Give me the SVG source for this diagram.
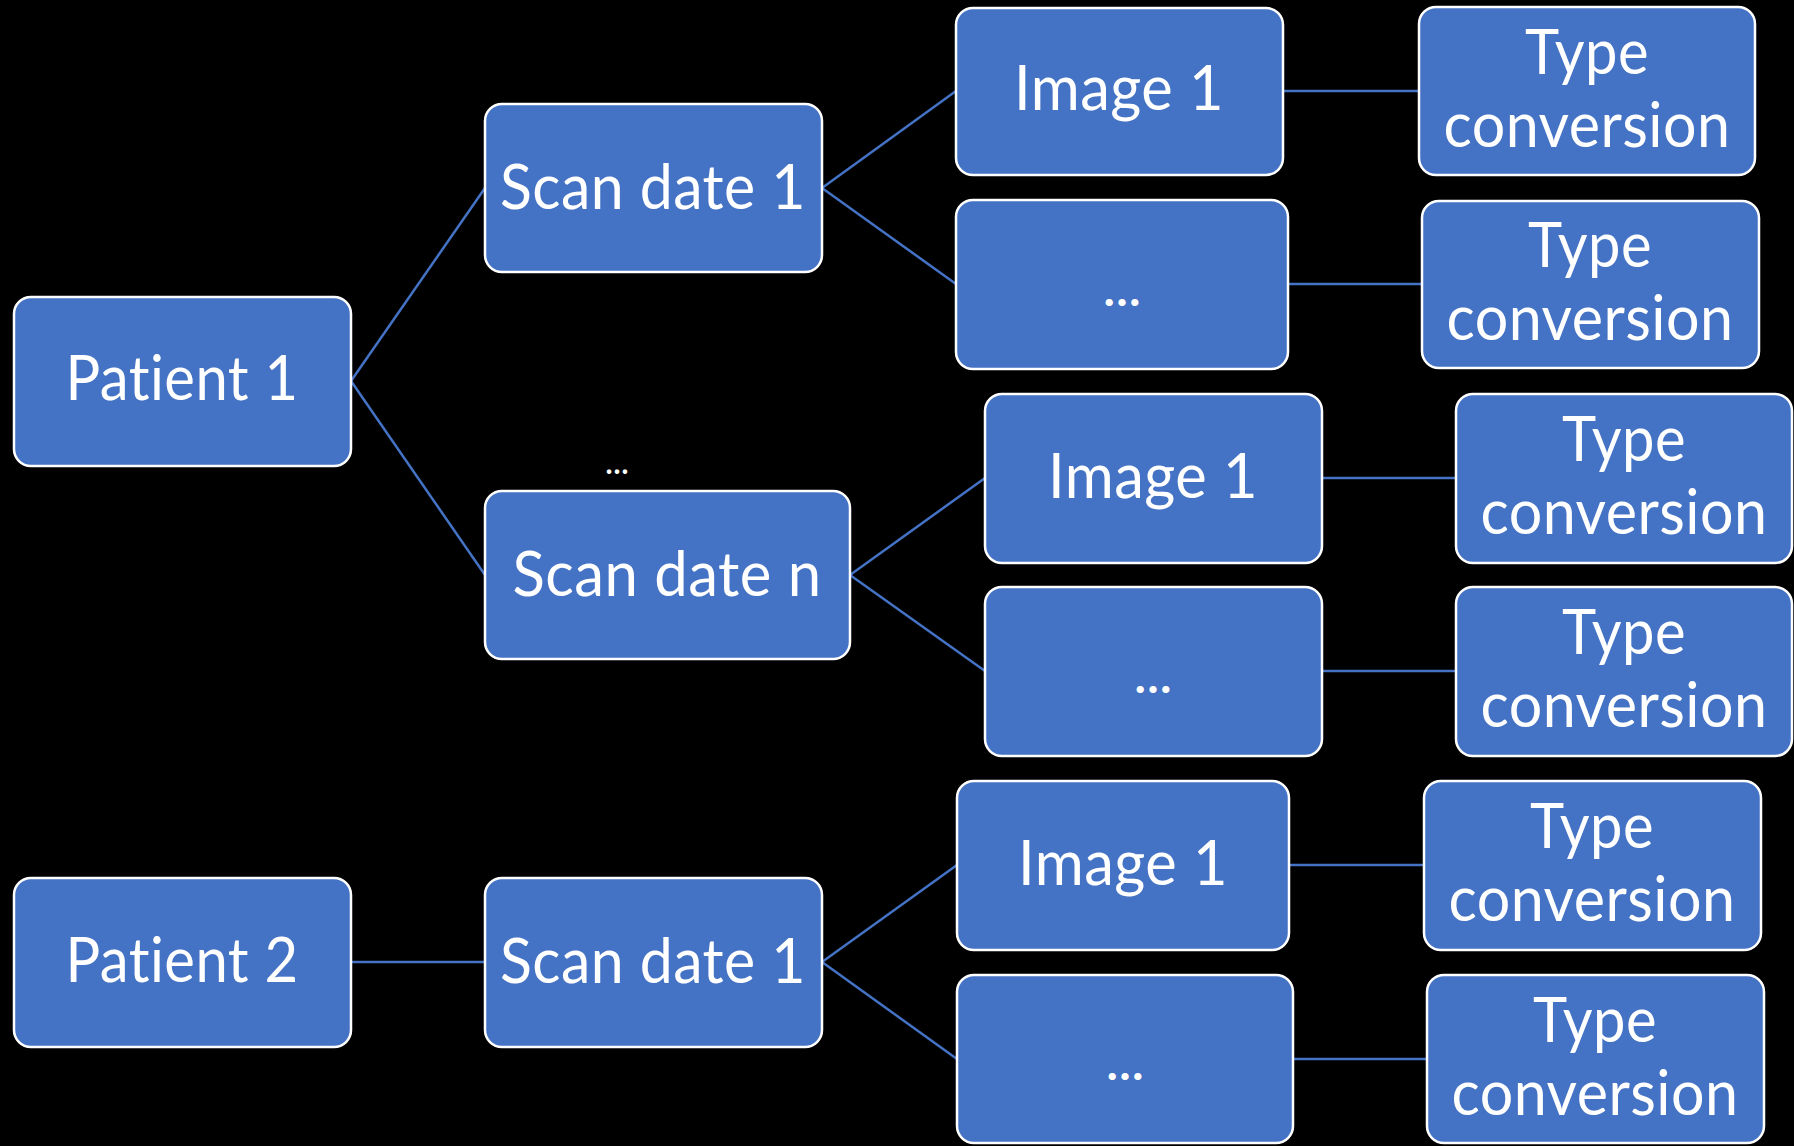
<svg xmlns="http://www.w3.org/2000/svg" width="1794" height="1146" viewBox="0 0 1794 1146">
  <style>
    .box { fill: #4472C4; stroke: #FFFFFF; stroke-width: 2.5; }
    .lbl { font-family: Lato, "Open Sans", "Liberation Sans", sans-serif; font-size: 61px; fill: #FFFFFF; text-anchor: middle; letter-spacing: 0.5px; font-variant-ligatures: none; font-feature-settings: "liga" 0, "clig" 0, "dlig" 0; }
    .dots { font-family: Lato, "Liberation Sans", sans-serif; font-size: 46px; font-weight: bold; fill: #FFFFFF; text-anchor: middle; }
    .link { stroke: #4472C4; stroke-width: 2.5; fill: none; }
  </style>
  <rect width="1794" height="1146" fill="#000000"/>

  <!-- connectors -->
  <g id="connectors">
    <line class="link" x1="351" y1="381" x2="485" y2="188"/>
    <line class="link" x1="351" y1="381" x2="485" y2="575"/>
    <line class="link" x1="822" y1="188" x2="956" y2="91"/>
    <line class="link" x1="822" y1="188" x2="956" y2="284"/>
    <line class="link" x1="1283" y1="91" x2="1419" y2="91"/>
    <line class="link" x1="1288" y1="284" x2="1422" y2="284"/>
    <line class="link" x1="850" y1="575" x2="985" y2="478"/>
    <line class="link" x1="850" y1="575" x2="985" y2="671"/>
    <line class="link" x1="1322" y1="478" x2="1456" y2="478"/>
    <line class="link" x1="1322" y1="671" x2="1456" y2="671"/>
    <line class="link" x1="351" y1="962" x2="485" y2="962"/>
    <line class="link" x1="822" y1="962" x2="957" y2="865"/>
    <line class="link" x1="822" y1="962" x2="957" y2="1059"/>
    <line class="link" x1="1289" y1="865" x2="1424" y2="865"/>
    <line class="link" x1="1293" y1="1059" x2="1427" y2="1059"/>
  </g>

  <!-- patient 1 branch -->
  <g id="patient1">
    <rect class="box" x="14" y="297" width="337" height="169" rx="17"/>
    <text class="lbl" x="182" y="400" textLength="233" lengthAdjust="spacingAndGlyphs">Patient 1</text>
  </g>
  <g id="scan1">
    <rect class="box" x="485" y="104" width="337" height="168" rx="17"/>
    <text class="lbl" x="653" y="209" textLength="306" lengthAdjust="spacingAndGlyphs">Scan date 1</text>
  </g>
  <g id="image1a">
    <rect class="box" x="956" y="8" width="327" height="167" rx="17"/>
    <text class="lbl" x="1119" y="110" textLength="210" lengthAdjust="spacingAndGlyphs">Image 1</text>
  </g>
  <g id="convert1">
    <rect class="box" x="1419" y="7" width="336" height="168" rx="17"/>
    <text class="lbl" x="1587" y="74" textLength="124" lengthAdjust="spacingAndGlyphs">Type</text>
    <text class="lbl" x="1587" y="147" textLength="287" lengthAdjust="spacingAndGlyphs">conversion</text>
  </g>
  <g id="more1">
    <rect class="box" x="956" y="200" width="332" height="169" rx="17"/>
    <text class="dots" x="1122" y="306" textLength="37" lengthAdjust="spacingAndGlyphs">…</text>
  </g>
  <g id="convert2">
    <rect class="box" x="1422" y="201" width="337" height="167" rx="17"/>
    <text class="lbl" x="1590" y="267" textLength="124" lengthAdjust="spacingAndGlyphs">Type</text>
    <text class="lbl" x="1590" y="340" textLength="287" lengthAdjust="spacingAndGlyphs">conversion</text>
  </g>

  <!-- gap marker between scan dates -->
  <g id="gap">
    <text class="dots" x="617" y="474" textLength="23" lengthAdjust="spacingAndGlyphs" style="font-size:30px">…</text>
  </g>

  <g id="scanN">
    <rect class="box" x="485" y="491" width="365" height="168" rx="17"/>
    <text class="lbl" x="667" y="596" textLength="309" lengthAdjust="spacingAndGlyphs">Scan date n</text>
  </g>
  <g id="image1b">
    <rect class="box" x="985" y="394" width="337" height="169" rx="17"/>
    <text class="lbl" x="1153" y="498" textLength="210" lengthAdjust="spacingAndGlyphs">Image 1</text>
  </g>
  <g id="convert3">
    <rect class="box" x="1456" y="394" width="336" height="169" rx="17"/>
    <text class="lbl" x="1624" y="461" textLength="124" lengthAdjust="spacingAndGlyphs">Type</text>
    <text class="lbl" x="1624" y="534" textLength="287" lengthAdjust="spacingAndGlyphs">conversion</text>
  </g>
  <g id="more2">
    <rect class="box" x="985" y="587" width="337" height="169" rx="17"/>
    <text class="dots" x="1153" y="693" textLength="37" lengthAdjust="spacingAndGlyphs">…</text>
  </g>
  <g id="convert4">
    <rect class="box" x="1456" y="587" width="336" height="169" rx="17"/>
    <text class="lbl" x="1624" y="654" textLength="124" lengthAdjust="spacingAndGlyphs">Type</text>
    <text class="lbl" x="1624" y="727" textLength="287" lengthAdjust="spacingAndGlyphs">conversion</text>
  </g>

  <!-- patient 2 branch -->
  <g id="patient2">
    <rect class="box" x="14" y="878" width="337" height="169" rx="17"/>
    <text class="lbl" x="182" y="982" textLength="233" lengthAdjust="spacingAndGlyphs">Patient 2</text>
  </g>
  <g id="scan1b">
    <rect class="box" x="485" y="878" width="337" height="169" rx="17"/>
    <text class="lbl" x="653" y="983" textLength="306" lengthAdjust="spacingAndGlyphs">Scan date 1</text>
  </g>
  <g id="image1c">
    <rect class="box" x="957" y="781" width="332" height="169" rx="17"/>
    <text class="lbl" x="1123" y="885" textLength="210" lengthAdjust="spacingAndGlyphs">Image 1</text>
  </g>
  <g id="convert5">
    <rect class="box" x="1424" y="781" width="337" height="169" rx="17"/>
    <text class="lbl" x="1592" y="848" textLength="124" lengthAdjust="spacingAndGlyphs">Type</text>
    <text class="lbl" x="1592" y="921" textLength="287" lengthAdjust="spacingAndGlyphs">conversion</text>
  </g>
  <g id="more3">
    <rect class="box" x="957" y="975" width="336" height="168" rx="17"/>
    <text class="dots" x="1125" y="1080" textLength="37" lengthAdjust="spacingAndGlyphs">…</text>
  </g>
  <g id="convert6">
    <rect class="box" x="1427" y="975" width="337" height="168" rx="17"/>
    <text class="lbl" x="1595" y="1042" textLength="124" lengthAdjust="spacingAndGlyphs">Type</text>
    <text class="lbl" x="1595" y="1115" textLength="287" lengthAdjust="spacingAndGlyphs">conversion</text>
  </g>
</svg>
